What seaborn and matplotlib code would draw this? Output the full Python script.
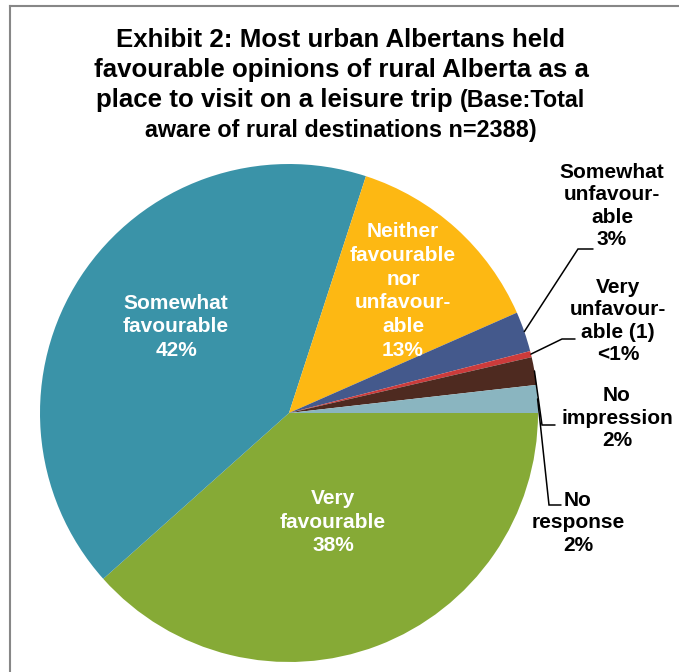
import matplotlib
matplotlib.use("Agg")
import matplotlib.pyplot as plt
import seaborn as sns
import numpy as np

# ---- data -------------------------------------------------------------
categories = [
    "Very favourable",
    "Somewhat favourable",
    "Neither favourable nor unfavourable",
    "Somewhat unfavourable",
    "Very unfavourable (1)",
    "No impression",
    "No response",
]
shares = [38.4, 41.6, 13.4, 2.6, 0.4, 1.8, 1.8]
slice_text = [
    "Very\nfavourable",
    "Somewhat\nfavourable",
    "Neither\nfavourable\nnor\nunfavour-\nable",
    "Somewhat\nunfavour-\nable",
    "Very\nunfavour-\nable (1)",
    "No\nimpression",
    "No\nresponse",
]
slice_hex = ["#86AA36", "#3A93A8", "#FDB813", "#44598C", "#CC3B3B", "#4E2A20", "#8AB5C0"]

title_lines = [
    "Exhibit 2: Most urban Albertans held",
    "favourable opinions of rural Alberta as a",
]
title_line3 = ("place to visit on a leisure trip", "(Base:Total")
title_line4 = "aware of rural destinations n=2388)"

# ---- style --------------------------------------------------------------
sns.set_theme(style="white")
plt.rcParams["font.family"] = ["Liberation Sans", "DejaVu Sans"]
palette = sns.color_palette(slice_hex)

W, H = 679, 672


def flip(y):
    """Convert a top-down pixel row into the axes' bottom-up y value."""
    return H - y


fig = plt.figure(figsize=(W / 100, H / 100), dpi=100)
ax = fig.add_axes([0, 0, 1, 1])

cx, cy, rad = 289, flip(413), 249
wedges, _ = ax.pie(
    shares,
    colors=palette,
    startangle=0,
    counterclock=False,
    center=(cx, cy),
    radius=rad,
    wedgeprops=dict(linewidth=0, antialiased=True),
)
ax.set_xlim(0, W)
ax.set_ylim(0, H)
ax.set_aspect("auto")
ax.axis("off")


def pct_label(v):
    return "<1%" if v < 1 else f"{round(v)}%"


label_font = dict(fontsize=15, fontweight="bold", ha="center", va="center",
                  multialignment="center")

# labels placed inside the three large slices
inside_pos = {0: (333, 522), 1: (176, 327), 2: (403, 291)}
for i, (x, y) in inside_pos.items():
    ax.text(x, flip(y), f"{slice_text[i]}\n{pct_label(shares[i])}",
            color="white", linespacing=1.31, **label_font)

# labels outside the thin slices, joined by elbow leader lines
outside = {
    3: dict(text=(612, 206), elbow=(578, 249), end=(593, 249)),
    4: dict(text=(618, 321), elbow=(562, 339), end=(575, 339)),
    5: dict(text=(617, 418), elbow=(542, 425), end=(555, 425)),
    6: dict(text=(578, 523), elbow=(549, 505), end=(561, 505)),
}
for i, spec in outside.items():
    w = wedges[i]
    mid = np.deg2rad((w.theta1 + w.theta2) / 2)
    sx, sy = cx + rad * np.cos(mid), cy + rad * np.sin(mid)
    ex, ey = spec["elbow"]
    fx, fy = spec["end"]
    ax.plot([sx, ex, fx], [sy, flip(ey), flip(fy)], color="black", lw=1.1,
            solid_joinstyle="miter")
    tx, ty = spec["text"]
    ax.text(tx, flip(ty), f"{slice_text[i]}\n{pct_label(shares[i])}",
            color="black", linespacing=1.24, **label_font)

# ---- title --------------------------------------------------------------
title_x = 341
big, small = 18.6, 16.8
for row, line in zip([47, 77], title_lines):
    ax.text(title_x, flip(row), line, fontsize=big, fontweight="bold",
            ha="center", va="baseline", color="black")

t_a = ax.text(0, flip(107), title_line3[0], fontsize=big, fontweight="bold",
              ha="left", va="baseline", color="black")
t_b = ax.text(0, flip(107), title_line3[1], fontsize=small, fontweight="bold",
              ha="left", va="baseline", color="black")
ax.text(title_x, flip(137), title_line4, fontsize=small, fontweight="bold",
        ha="center", va="baseline", color="black")

fig.canvas.draw()
renderer = fig.canvas.get_renderer()
wa = t_a.get_window_extent(renderer).width
wb = t_b.get_window_extent(renderer).width
gap = 0.278 * big * 100 / 72
x0 = title_x - (wa + gap + wb) / 2
t_a.set_x(x0)
t_b.set_x(x0 + wa + gap)

# ---- frame of the chart area -----------------------------------------------
frame_kw = dict(color="#878787", lw=1.5, solid_capstyle="projecting", clip_on=False)
ax.plot([10, 10], [-5, flip(6)], **frame_kw)
ax.plot([10, W + 5], [flip(6), flip(6)], **frame_kw)

fig.savefig("out.png", dpi=100, facecolor="white")
